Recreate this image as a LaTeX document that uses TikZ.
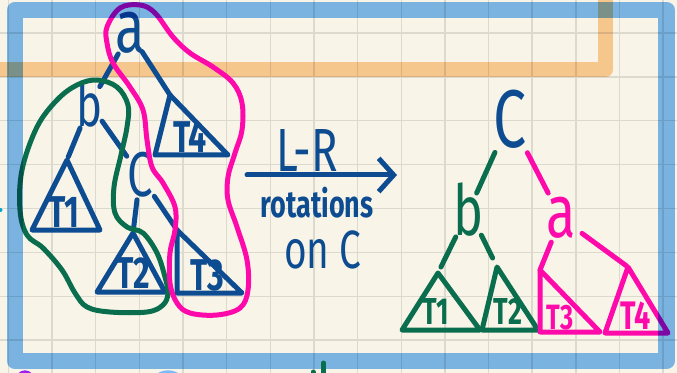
\documentclass[tikz,border=0pt]{standalone}
\usepackage{fontspec}
\newfontfamily\hand[FakeStretch=0.72]{Fira Sans}
\usetikzlibrary{arrows.meta}
\definecolor{paper}{HTML}{F8F5E8}
\definecolor{gridline}{HTML}{DCDACE}
\definecolor{inkblue}{HTML}{0E4C92}
\definecolor{inkgreen}{HTML}{0A6E4E}
\definecolor{inkpink}{HTML}{FF0AAA}
\definecolor{frameblue}{HTML}{7EBAF7}
\definecolor{frameorange}{HTML}{FDD09C}
\definecolor{scrap}{HTML}{A020F0}
\tikzset{
    ink/.style={line width=0.15cm, line cap=round, line join=round},
    letter/.style={inner sep=0pt, font=\hand\fontsize{#1}{#1}\selectfont},
    tlabel/.style={inner sep=0pt, font=\hand\bfseries\fontsize{#1}{#1}\selectfont}
}
\begin{document}
\begin{tikzpicture}[x=0.03cm, y=-0.03cm]
    % papir i mreza
    \useasboundingbox (0,0) rectangle (677,373);
    \clip (0,0) rectangle (677,373);
    \fill [paper] (0,0) rectangle (677,373);
    \foreach \k in {0,...,15}{
        \draw [gridline, line width=0.045cm] ({8.4+43.65*\k},0) -- ++(0,373);
    }
    \foreach \k in {0,...,8}{
        \draw [gridline, line width=0.045cm] (0,{-11+43.9*\k}) -- ++(677,0);
    }
    % narandzasti okvir
    \draw [frameorange, line width=0.45cm, line join=round, blend mode=multiply]
        (-10,69.5) -- (605.5,69.5) -- (605.5,-10);

    % levo stablo
    \node [letter=64, text=inkblue] (la) at (130,33) {a};
    \node [letter=52, text=inkblue] (lb) at (90,104) {b};
    \node [letter=54, text=inkblue] (lc) at (140,175) {C};
    % desno stablo
    \node [letter=70, text=inkblue] (rc) at (510,119) {C};
    \node [letter=60, text=inkgreen] (rb) at (469,210) {b};
    \node [letter=64, text=inkpink] (ra) at (561,218) {a};

    % podstabla: vrh, levi i desni kraj osnove, osnova, boja, natpis
    \foreach \n/\ax/\ay/\bl/\br/\by/\c/\lx/\ly/\s/\t in {
        lt1/67/160/32/100/230/inkblue/64/212/38/T1,
        lt2/133/233/97/165/292/inkblue/133/273/38/T2,
        lt3/177/230/177/242/293/inkblue/207/275/38/T3,
        lt4/170/95/155/228/155/inkblue/190/137/38/T4,
        rt1/438/273/402/480/330/inkgreen/436/312/32/T1,
        rt2/497/267/482/538/330/inkgreen/508/312/32/T2,
        rt3/540/270/540/600/332/inkpink/560/318/30/T3,
        rt4/628/267/605/668/333/inkpink/636/316/34/T4}{
        \coordinate (\n) at (\ax,\ay);
        \draw [ink, \c] (\n) -- (\bl,\by) -- (\br,\by) -- cycle;
        \node [tlabel=\s, text=\c] (\n lab) at (\lx,\ly) {\t};
    }

    % grane levo
    \draw [ink, inkblue, shorten <=0.72cm, shorten >=0.6cm] (la.center) -- (lb.center);
    \draw [ink, inkblue, shorten <=0.66cm] (la.center) -- (lt4);
    \draw [ink, inkblue, shorten <=0.78cm, shorten >=0.1cm] (lb.center) -- (lt1);
    \draw [ink, inkblue, shorten <=0.63cm, shorten >=0.69cm] (lb.center) -- (lc.center);
    \draw [ink, inkblue, shorten <=0.75cm, shorten >=0.18cm] (lc.center) -- (lt2);
    \draw [ink, inkblue, shorten <=0.77cm] (lc.center) -- (lt3);
    % grane desno
    \draw [ink, inkgreen, shorten <=1.1cm, shorten >=0.56cm] (rc.center) -- (rb.center);
    \draw [ink, inkpink, shorten <=1.14cm, shorten >=0.84cm] (rc.center) -- (ra.center);
    \draw [ink, inkgreen, shorten <=0.9cm, shorten >=0.2cm] (rb.center) -- (rt1);
    \draw [ink, inkgreen, shorten <=0.84cm, shorten >=0.3cm] (rb.center) -- (rt2);
    \draw [ink, inkpink, shorten <=0.78cm] (ra.center) -- (rt3);
    \draw [ink, inkpink, shorten <=0.78cm, shorten >=0.05cm] (ra.center) -- (rt4);

    % zaokruzeni delovi
    \draw [ink, inkgreen] plot [smooth cycle, tension=0.6] coordinates {
        (97,80) (117,87) (128,105) (127,127) (121,155) (114,187) (115,213)
        (127,227) (143,233) (157,253) (165,277) (168,293) (163,305) (147,312)
        (110,312) (87,307) (75,293) (62,270) (43,248) (27,235) (20,210)
        (22,170) (37,127) (57,100) (77,85)};
    \draw [ink, inkpink] plot [smooth cycle, tension=0.6] coordinates {
        (120,8) (140,5) (155,13) (173,37) (190,53) (213,67) (233,83)
        (242,103) (242,130) (235,153) (228,177) (228,200) (237,227) (247,260)
        (248,290) (240,308) (217,315) (190,313) (177,303) (170,283) (170,253)
        (175,230) (175,207) (163,183) (152,167) (147,140) (143,110) (130,87)
        (113,63) (107,43) (107,27)};

    % strelica rotacije
    \coordinate (arrfrom) at (247,175);
    \coordinate (arrto) at (397,175);
    \draw [ink, inkblue, -{Straight Barb[length=0.45cm, width=1.0cm]}] (arrfrom) -- (arrto);
    \node [letter=52, text=inkblue] (lr) at (307,151) {L-R};
    \node [tlabel=32, text=inkblue] (rot) at (317,203) {rotations};
    \node [letter=46, text=inkblue] (onc) at (323,250) {on C};

    % plavi okvir
    \draw [frameblue, line width=0.495cm, line join=round, blend mode=multiply]
        (15,10) rectangle (666.5,361);

    % ostaci ispod okvira
    \fill [inkblue!50!cyan] (0.5,210) circle (2);
    \draw [scrap, line width=0.1cm] (25,381) ellipse (8 and 9);
    \draw [frameblue, line width=0.1cm] (168,384) ellipse (15 and 12);
    \draw [ink, inkgreen] (323.5,363) -- (323.5,380);
    \draw [ink, inkgreen] (313,372) -- (313,380);
\end{tikzpicture}
\end{document}
